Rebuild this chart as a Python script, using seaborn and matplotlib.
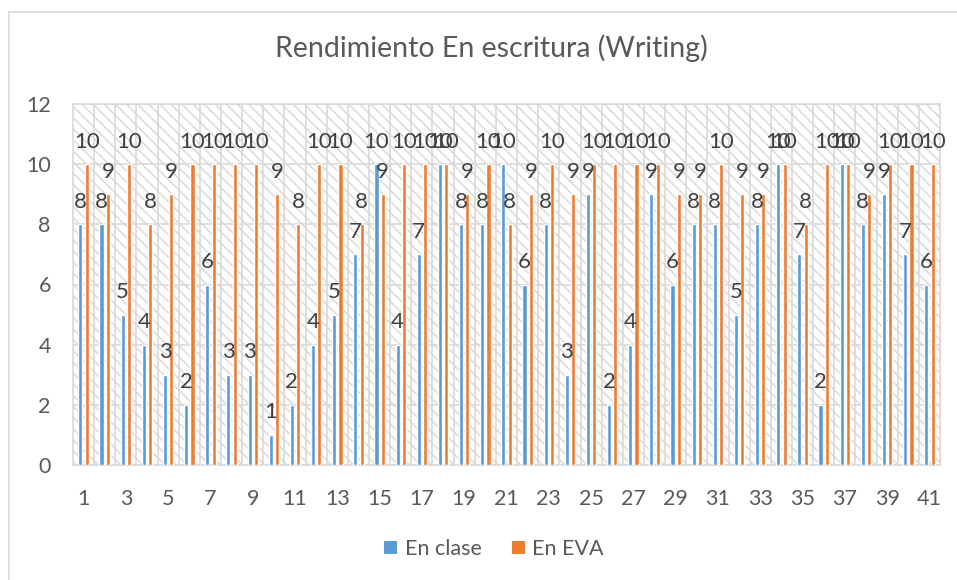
import matplotlib
matplotlib.use("Agg")
import matplotlib.pyplot as plt
from matplotlib.patches import Rectangle, Patch
from matplotlib.lines import Line2D
import numpy as np
import pandas as pd
import seaborn as sns

# Puntajes de escritura por estudiante (1-41)
estudiantes = [str(i) for i in range(1, 42)]
en_clase = [8, 8, 5, 4, 3, 2, 6, 3, 3, 1,
            2, 4, 5, 7, 10, 4, 7, 10, 8, 8,
            10, 6, 8, 3, 9, 2, 4, 9, 6, 8,
            8, 5, 8, 10, 7, 2, 10, 8, 9, 7, 6]
en_eva = [10, 9, 10, 8, 9, 10, 10, 10, 10, 9,
          8, 10, 10, 8, 9, 10, 10, 10, 9, 10,
          8, 9, 10, 9, 10, 10, 10, 10, 9, 9,
          10, 9, 9, 10, 8, 10, 10, 9, 10, 10, 10]
series = ["En clase", "En EVA"]
colores = ["#5B9BD5", "#ED7D31"]
titulo = "Rendimiento En escritura (Writing)"
y_ticks = [0, 2, 4, 6, 8, 10, 12]

df = pd.DataFrame({
    "Estudiante": estudiantes * 2,
    "Nota": en_clase + en_eva,
    "Modalidad": [series[0]] * len(estudiantes) + [series[1]] * len(estudiantes),
})

sns.set_style("white")
plt.rcParams["font.family"] = ["Lato", "DejaVu Sans"]
plt.rcParams["hatch.linewidth"] = 1.2

W, H = 957, 580
fig = plt.figure(figsize=(W / 100, H / 100), dpi=100)
ax = fig.add_axes([73 / W, 1 - 465 / H, (940 - 73) / W, (465 - 104) / H])

grid_c = "#D9D9D9"
text_c = "#595959"

# patterned plot-area background
ax.set_facecolor("white")
ax.add_patch(Rectangle((0, 0), 1, 1, transform=ax.transAxes, facecolor="white",
                       edgecolor="#DCDCDC", hatch="\\\\\\", lw=0, zorder=0))

sns.barplot(data=df, x="Estudiante", y="Nota", hue="Modalidad",
            order=estudiantes, hue_order=series, palette=colores,
            width=0.6, gap=0.35, saturation=1, legend=False, ax=ax, zorder=3)

ax.set_xlim(-0.5, len(estudiantes) - 0.5)
ax.set_ylim(0, 12)
ax.set_yticks(y_ticks)
ax.set_xticks(range(0, len(estudiantes), 2))
ax.set_xticklabels(estudiantes[::2])
ax.set_xticks(np.arange(0.5, len(estudiantes) - 1, 1), minor=True)
ax.set_xlabel("")
ax.set_ylabel("")

ax.grid(axis="y", which="major", color=grid_c, lw=1.2, zorder=1)
ax.grid(axis="x", which="minor", color=grid_c, lw=1.2, zorder=1)
ax.grid(axis="x", which="major", visible=False)
ax.set_axisbelow(True)
for s in ax.spines.values():
    s.set_color(grid_c)
    s.set_linewidth(1.2)

ax.tick_params(axis="both", which="both", length=0, labelsize=15.5, colors=text_c)
ax.tick_params(axis="y", pad=16)
ax.tick_params(axis="x", pad=17)

# value labels above each bar
for cont, vals in zip(ax.containers, [en_clase, en_eva]):
    for bar, v in zip(cont, vals):
        ax.annotate(str(v), (bar.get_x() + bar.get_width() / 2, v),
                    xytext=(0, 12), textcoords="offset points",
                    ha="center", va="baseline", fontsize=16, color="#404040",
                    zorder=5, annotation_clip=False)

fig.text(491 / W, 1 - 57 / H, titulo, ha="center", va="baseline",
         fontsize=20.5, color=text_c)

handles = [Patch(facecolor=c, edgecolor="none") for c in colores]
fig.legend(handles, series, loc="center", bbox_to_anchor=(494 / W, 1 - 549 / H),
           ncol=2, frameon=False, fontsize=15.5, labelcolor=text_c,
           handlelength=0.6, handleheight=0.6, handletextpad=0.35,
           columnspacing=1.4)

# chart frame
fig.add_artist(Line2D([9 / W, 1], [1 - 12 / H] * 2, color=grid_c, lw=1.2,
                      transform=fig.transFigure))
fig.add_artist(Line2D([9 / W] * 2, [0, 1 - 12 / H], color=grid_c, lw=1.2,
                      transform=fig.transFigure))

fig.savefig("out.png", dpi=100, facecolor="white")
